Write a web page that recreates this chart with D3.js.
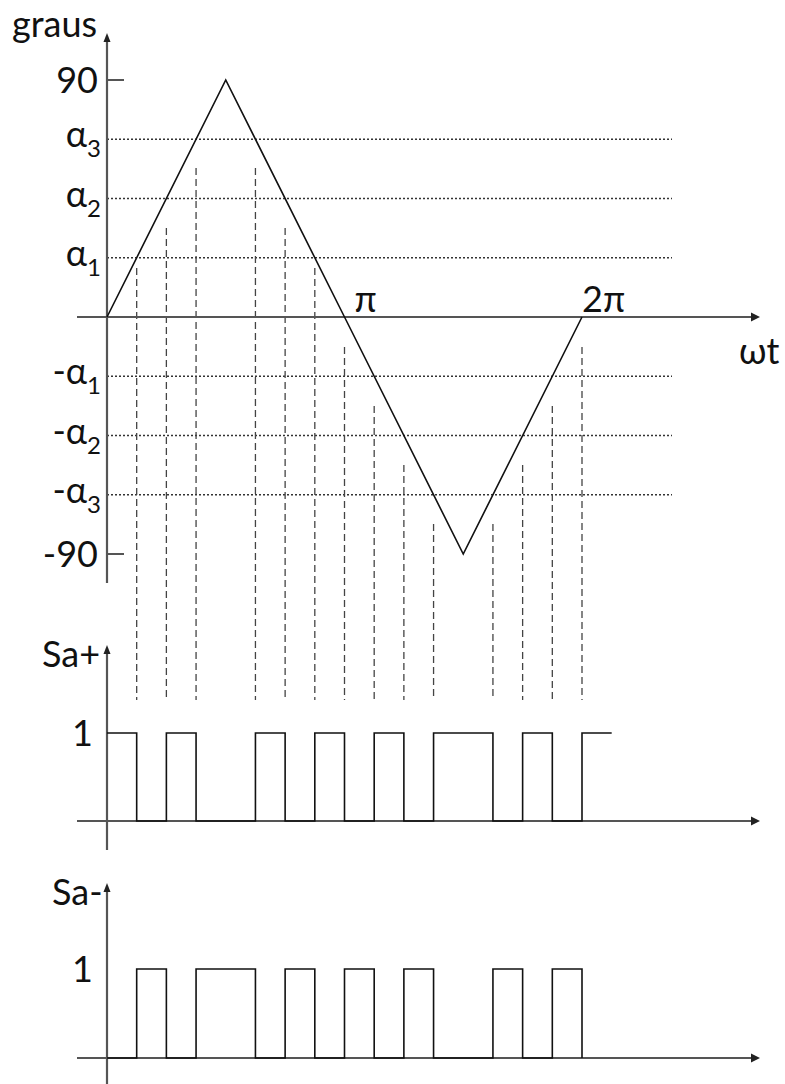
<!DOCTYPE html>
<html>
<head>
<meta charset="utf-8">
<script src="https://cdn.jsdelivr.net/npm/d3@7"></script>
<style>
  body { margin: 0; background: #fff; }
  text { font-family: Lato, "Open Sans", sans-serif; fill: #111; }
</style>
</head>
<body>
<script>
// triangle carrier (degrees vs wt in degrees)
var carrierWt  = [0, 90, 180, 270, 360];
var carrierDeg = [0, 90, 0, -90, 0];

// comparison levels
var levelNames  = ["α3", "α2", "α1", "-α1", "-α2", "-α3"];
var levelValues = [67.5, 45, 22.5, -22.5, -45, -67.5];

// tick labels
var yTickLabels = ["90", "-90"];
var yTickValues = [90, -90];
var xTickLabels = ["π", "2π"];
var xTickValues = [180, 360];

// switching instants and where each dashed guide starts (degrees)
var switchWt   = [22.5, 45, 67.5, 112.5, 135, 157.5, 180, 202.5, 225, 247.5, 292.5, 315, 337.5, 360];
var dashTopDeg = [18.6, 33.8, 56.6, 56.6, 33.8, 18.6, -11.4, -33.8, -56.2, -78.6, -78.6, -56.2, -33.8, -11.4];

// gate signals (step after each instant)
var saPlusWt  = [0, 22.5, 45, 67.5, 112.5, 135, 157.5, 180, 202.5, 225, 247.5, 292.5, 315, 337.5, 360, 382.5];
var saPlusVal = [1, 0, 1, 0, 1, 0, 1, 0, 1, 0, 1, 0, 1, 0, 1, 1];
var saMinusWt  = [0, 22.5, 45, 67.5, 112.5, 135, 157.5, 180, 202.5, 225, 247.5, 292.5, 315, 337.5, 360];
var saMinusVal = [0, 1, 0, 1, 0, 1, 0, 1, 0, 1, 0, 1, 0, 1, 0];

var width = 785, height = 1084,
    axisX = 107, axisLeft = 77, axisRight = 760;

var x = d3.scaleLinear().domain([0, 360]).range([axisX, 582]);
var y = d3.scaleLinear().domain([-90, 90]).range([554, 80]);
var yPlus = d3.scaleLinear().domain([0, 1]).range([821, 733]);
var yMinus = d3.scaleLinear().domain([0, 1]).range([1058, 969]);

var svg = d3.select("body").append("svg")
    .attr("width", width)
    .attr("height", height);

// dotted level lines
svg.selectAll(".level")
    .data(levelValues)
  .enter().append("line")
    .attr("class", "level")
    .attr("x1", axisX).attr("x2", 672)
    .attr("y1", function(d) { return y(d); })
    .attr("y2", function(d) { return y(d); })
    .attr("stroke", "#333")
    .attr("stroke-width", 1.4)
    .attr("stroke-dasharray", "2,2");

// dashed guides down to Sa+
svg.selectAll(".guide")
    .data(switchWt)
  .enter().append("line")
    .attr("class", "guide")
    .attr("x1", function(d) { return x(d); })
    .attr("x2", function(d) { return x(d); })
    .attr("y1", function(d, i) { return y(dashTopDeg[i]); })
    .attr("y2", yPlus(1.375))
    .attr("stroke", "#444")
    .attr("stroke-width", 1.3)
    .attr("stroke-dasharray", "7,4");

// axes with arrows
function arrowRight(yy) {
  svg.append("line")
      .attr("x1", axisLeft).attr("x2", axisRight - 6)
      .attr("y1", yy).attr("y2", yy)
      .attr("stroke", "#555").attr("stroke-width", 2.2);
  svg.append("path")
      .attr("d", "M" + axisRight + "," + yy + "l-9,-4.5v9z")
      .attr("fill", "#222");
}
function arrowUp(top, bottom) {
  svg.append("line")
      .attr("x1", axisX).attr("x2", axisX)
      .attr("y1", top + 6).attr("y2", bottom)
      .attr("stroke", "#555").attr("stroke-width", 2.2);
  svg.append("path")
      .attr("d", "M" + axisX + "," + top + "l-3.5,9h7z")
      .attr("fill", "#222");
}

arrowUp(33, 583);
arrowRight(y(0));
arrowUp(645, 850);
arrowRight(yPlus(0));
arrowUp(883, 1084);
arrowRight(yMinus(0));

// 90 / -90 ticks
svg.selectAll(".ytick")
    .data(yTickValues)
  .enter().append("line")
    .attr("x1", axisX).attr("x2", axisX + 17)
    .attr("y1", function(d) { return y(d); })
    .attr("y2", function(d) { return y(d); })
    .attr("stroke", "#555").attr("stroke-width", 2);

// carrier
var line = d3.line()
    .x(function(d) { return x(d[0]); })
    .y(function(d) { return y(d[1]); });

svg.append("path")
    .datum(d3.zip(carrierWt, carrierDeg))
    .attr("d", line)
    .attr("fill", "none")
    .attr("stroke", "#111")
    .attr("stroke-width", 1.6);

// gate signals
function gate(wt, val, sy) {
  var step = d3.line()
      .curve(d3.curveStepAfter)
      .x(function(d) { return x(d[0]); })
      .y(function(d) { return sy(d[1]); });
  svg.append("path")
      .datum(d3.zip(wt, val))
      .attr("d", step)
      .attr("fill", "none")
      .attr("stroke", "#111")
      .attr("stroke-width", 1.6);
}
gate(saPlusWt, saPlusVal, yPlus);
gate(saMinusWt, saMinusVal, yMinus);

// labels
var fs = 36;

svg.selectAll(".ylab")
    .data(yTickLabels)
  .enter().append("text")
    .attr("x", 98)
    .attr("y", function(d, i) { return y(yTickValues[i]) + 13; })
    .attr("text-anchor", "end")
    .style("font-size", fs + "px")
    .text(function(d) { return d; });

var lv = svg.selectAll(".lvlab")
    .data(levelNames)
  .enter().append("text")
    .attr("x", 101)
    .attr("y", function(d, i) { return y(levelValues[i]) + 8; })
    .attr("text-anchor", "end")
    .style("font-size", fs + "px");
lv.append("tspan").text(function(d) { return d.slice(0, -1); });
lv.append("tspan")
    .attr("dy", 10)
    .style("font-size", "24px")
    .text(function(d) { return d.slice(-1); });

svg.selectAll(".xlab")
    .data(xTickLabels)
  .enter().append("text")
    .attr("x", function(d, i) { return x(xTickValues[i]) + (i === 0 ? 10 : 0); })
    .attr("y", y(0) - 5)
    .style("font-size", fs + "px")
    .text(function(d) { return d; });

svg.append("text")
    .attr("x", 739).attr("y", 364)
    .style("font-size", fs + "px")
    .text("ωt");

svg.append("text")
    .attr("x", 12).attr("y", 37)
    .style("font-size", fs + "px")
    .text("graus");

svg.append("text")
    .attr("x", 42).attr("y", 667)
    .style("font-size", fs + "px")
    .text("Sa+");

svg.append("text")
    .attr("x", 52).attr("y", 905)
    .style("font-size", fs + "px")
    .text("Sa-");

svg.append("text")
    .attr("x", 93).attr("y", yPlus(1) + 13)
    .attr("text-anchor", "end")
    .style("font-size", fs + "px")
    .text("1");

svg.append("text")
    .attr("x", 93).attr("y", yMinus(1) + 13)
    .attr("text-anchor", "end")
    .style("font-size", fs + "px")
    .text("1");
</script>
</body>
</html>
